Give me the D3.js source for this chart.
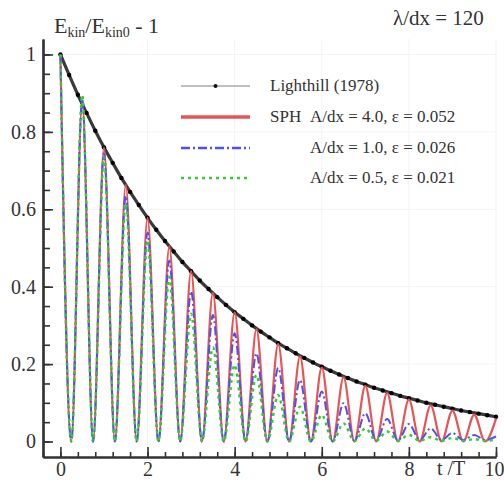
<!DOCTYPE html>
<html>
<head>
<meta charset="utf-8">
<script src="https://d3js.org/d3.v7.min.js"></script>
<style>
  body { margin: 0; background: #fff; }
  text { font-family: "Liberation Serif", "DejaVu Serif", serif; fill: #333; }
</style>
</head>
<body>
<script>
// sample times of the SPH runs (peaks and troughs, every quarter of T)
var sphTimes = [0, 0.25, 0.5, 0.75, 1, 1.25, 1.5, 1.75, 2, 2.25, 2.5, 2.75, 3, 3.25, 3.5, 3.75,
  4, 4.25, 4.5, 4.75, 5, 5.25, 5.5, 5.75, 6, 6.25, 6.5, 6.75, 7, 7.25, 7.5, 7.75,
  8, 8.25, 8.5, 8.75, 9, 9.25, 9.5, 9.75, 10];

// SPH A/dx = 4.0
var sphA40 = [1.0, 0, 0.878, 0, 0.760, 0, 0.663, 0, 0.578, 0, 0.504, 0, 0.440, 0, 0.384, 0,
  0.334, 0, 0.290, 0, 0.252, 0, 0.220, 0, 0.191, 0, 0.166, 0, 0.144, 0, 0.125, 0,
  0.108, 0, 0.093, 0, 0.080, 0, 0.069, 0, 0.059];

// SPH A/dx = 1.0
var sphA10 = [1.0, 0, 0.885, 0, 0.745, 0, 0.635, 0, 0.540, 0, 0.468, 0, 0.388, 0, 0.327, 0,
  0.280, 0, 0.228, 0, 0.190, 0, 0.159, 0, 0.129, 0, 0.099, 0.001, 0.073, 0.002, 0.058, 0.003,
  0.045, 0.004, 0.034, 0.004, 0.022, 0.004, 0.017, 0.004, 0.013];

// SPH A/dx = 0.5
var sphA05 = [1.0, 0, 0.895, 0, 0.735, 0, 0.615, 0, 0.520, 0, 0.425, 0, 0.330, 0, 0.243, 0,
  0.198, 0, 0.172, 0, 0.120, 0, 0.090, 0, 0.069, 0, 0.047, 0.001, 0.034, 0.002, 0.026, 0.002,
  0.017, 0.002, 0.011, 0.002, 0.009, 0.002, 0.006, 0.002, 0.005];

// Lighthill (1978) reference curve
var lhTimes = [0, 0.2, 0.4, 0.6, 0.8, 1, 1.2, 1.4, 1.6, 1.8, 2, 2.2, 2.4, 2.6, 2.8, 3, 3.2, 3.4, 3.6, 3.8,
  4, 4.2, 4.4, 4.6, 4.8, 5, 5.2, 5.4, 5.6, 5.8, 6, 6.2, 6.4, 6.6, 6.8, 7, 7.2, 7.4, 7.6, 7.8,
  8, 8.2, 8.4, 8.6, 8.8, 9, 9.2, 9.4, 9.6, 9.8, 10];
var lighthill = [1.000, 0.947, 0.896, 0.849, 0.803, 0.760, 0.720, 0.681, 0.645, 0.611,
  0.578, 0.547, 0.518, 0.491, 0.464, 0.440, 0.416, 0.394, 0.373, 0.353,
  0.334, 0.317, 0.300, 0.284, 0.269, 0.254, 0.241, 0.228, 0.216, 0.204,
  0.193, 0.183, 0.173, 0.164, 0.155, 0.147, 0.139, 0.132, 0.125, 0.118,
  0.112, 0.106, 0.100, 0.095, 0.090, 0.085, 0.080, 0.076, 0.072, 0.068, 0.064];

var xMajor = [0, 2, 4, 6, 8, 10];
var yMajor = [0, 0.2, 0.4, 0.6, 0.8, 1];

var width = 504, height = 481;

var svg = d3.select("body").append("svg")
    .attr("width", width)
    .attr("height", height);

// scales (axis box runs a bit past the data on the low side)
var x = d3.scaleLinear().domain([-0.4, 10]).range([43, 496]);
var y = d3.scaleLinear().domain([-0.04, 1.04]).range([457, 39]);

// very faint grid
svg.append("g").selectAll("line")
    .data(xMajor.slice(1))
  .enter().append("line")
    .attr("x1", function(d) { return x(d); })
    .attr("x2", function(d) { return x(d); })
    .attr("y1", y(1.04)).attr("y2", y(-0.04))
    .attr("stroke", "#f3f3f3");
svg.append("g").selectAll("line")
    .data(yMajor.slice(1))
  .enter().append("line")
    .attr("x1", x(-0.4)).attr("x2", x(10))
    .attr("y1", function(d) { return y(d); })
    .attr("y2", function(d) { return y(d); })
    .attr("stroke", "#f3f3f3");

// x axis: minor ticks every 0.4, major every 2
var xMinor = d3.range(-0.4, 10.01, 0.4).map(function(d) { return Math.round(d * 10) / 10; });
var gxMinor = svg.append("g")
    .attr("transform", "translate(0," + y(-0.04) + ")")
    .call(d3.axisBottom(x).tickValues(xMinor).tickSizeInner(-5).tickSizeOuter(0).tickFormat(""));
var gx = svg.append("g")
    .attr("transform", "translate(0," + y(-0.04) + ")")
    .call(d3.axisBottom(x).tickValues(xMajor).tickSizeInner(-10).tickSizeOuter(0).tickPadding(5)
      .tickFormat(d3.format("d")));

// y axis: ticks every 0.05, labels every 0.2
var yMinor = d3.range(0, 1.001, 0.05).map(function(d) { return Math.round(d * 100) / 100; });
var gyMinor = svg.append("g")
    .attr("transform", "translate(" + x(-0.4) + ",0)")
    .call(d3.axisLeft(y).tickValues(yMinor).tickSizeInner(-7).tickSizeOuter(0).tickFormat(""));
var gy = svg.append("g")
    .attr("transform", "translate(" + x(-0.4) + ",0)")
    .call(d3.axisLeft(y).tickValues(yMajor).tickSizeInner(-10).tickSizeOuter(0).tickPadding(7)
      .tickFormat(function(d) { return d === 0 || d === 1 ? d : d.toFixed(1); }));

[gxMinor, gx, gyMinor, gy].forEach(function(g) {
  g.select(".domain").attr("stroke", "#333").attr("stroke-width", 2.2);
  g.selectAll(".tick line").attr("stroke", "#333").attr("stroke-width", 1.6);
  g.selectAll(".tick text")
    .attr("font-family", "Liberation Serif, serif")
    .attr("font-size", 20)
    .attr("fill", "#444");
});
// the last label sits at the right edge, as in the original
gx.selectAll(".tick text").filter(function(d) { return d === 10; }).attr("text-anchor", "end").attr("dx", 8);

// curves
var lhData = lhTimes.map(function(t, i) { return {t: t, v: lighthill[i]}; });
var line = d3.line()
    .x(function(d) { return x(d.t); })
    .y(function(d) { return y(d.v); });

svg.append("path")
    .datum(lhData)
    .attr("d", line.curve(d3.curveCatmullRom))
    .attr("fill", "none")
    .attr("stroke", "#3a3a3a")
    .attr("stroke-width", 3.2);
svg.append("g").selectAll("circle")
    .data(lhData)
  .enter().append("circle")
    .attr("cx", function(d) { return x(d.t); })
    .attr("cy", function(d) { return y(d.v); })
    .attr("r", 2.2)
    .attr("fill", "#000");

line.curve(d3.curveMonotoneX);

var series = [
  {values: sphA40, color: "#e65454", width: 2.2, dash: null},
  {values: sphA10, color: "#5050ee", width: 2, dash: "9,3,2,3"},
  {values: sphA05, color: "#33cc33", width: 2.4, dash: "3,4"}
];

series.forEach(function(s) {
  var data = sphTimes.map(function(t, i) { return {t: t, v: s.values[i]}; });
  svg.append("path")
    .datum(data)
    .attr("d", line)
    .attr("fill", "none")
    .attr("stroke", s.color)
    .attr("stroke-width", s.width)
    .attr("stroke-dasharray", s.dash);
});

// legend
var lx1 = 181, lx2 = 250;
var leg = svg.append("g");
leg.append("line").attr("x1", lx1).attr("x2", lx2).attr("y1", 86).attr("y2", 86)
    .attr("stroke", "#aaa").attr("stroke-width", 1.6);
leg.append("circle").attr("cx", (lx1 + lx2) / 2).attr("cy", 86).attr("r", 2).attr("fill", "#111");
leg.append("line").attr("x1", lx1).attr("x2", lx2).attr("y1", 117).attr("y2", 117)
    .attr("stroke", series[0].color).attr("stroke-width", 3.5);
leg.append("line").attr("x1", lx1).attr("x2", lx2).attr("y1", 148).attr("y2", 148)
    .attr("stroke", series[1].color).attr("stroke-width", 2.5).attr("stroke-dasharray", series[1].dash);
leg.append("line").attr("x1", lx1).attr("x2", lx2).attr("y1", 178).attr("y2", 178)
    .attr("stroke", series[2].color).attr("stroke-width", 2.5).attr("stroke-dasharray", series[2].dash);

var legText = [
  {x: 270, y: 91, s: "Lighthill (1978)"},
  {x: 270, y: 122, s: "SPH"},
  {x: 310, y: 122, s: "A/dx = 4.0, \u03b5 = 0.052"},
  {x: 310, y: 153, s: "A/dx = 1.0, \u03b5 = 0.026"},
  {x: 310, y: 183, s: "A/dx = 0.5, \u03b5 = 0.021"}
];
leg.selectAll("text.leg")
    .data(legText)
  .enter().append("text")
    .attr("class", "leg")
    .attr("x", function(d) { return d.x; })
    .attr("y", function(d) { return d.y; })
    .attr("font-size", 17)
    .text(function(d) { return d.s; });

// titles
var title = svg.append("text").attr("x", 54).attr("y", 33).attr("font-size", 22);
title.append("tspan").text("E");
title.append("tspan").attr("font-size", 14).attr("dy", 4).text("kin");
title.append("tspan").attr("dy", -4).text("/E");
title.append("tspan").attr("font-size", 14).attr("dy", 4).text("kin0");
title.append("tspan").attr("dy", -4).text(" - 1");

svg.append("text").attr("x", 437).attr("y", 475).attr("font-size", 20).text("t /T");
svg.append("text").attr("x", 393).attr("y", 25).attr("font-size", 21).text("\u03bb/dx = 120");
</script>
</body>
</html>
